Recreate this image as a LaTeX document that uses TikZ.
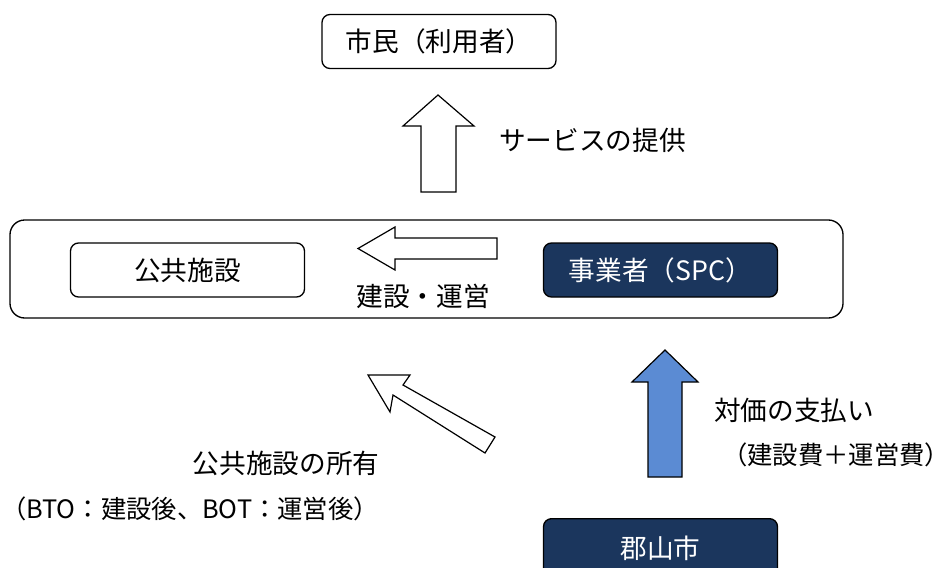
\documentclass[tikz,border=0pt]{standalone}
\usepackage{fontspec}
\setmainfont{Noto Sans CJK JP}
\definecolor{navy}{HTML}{1B365D}
\definecolor{arrowblue}{HTML}{5B8BD3}
\begin{document}
\begin{tikzpicture}[x=0.75pt,y=-0.75pt,
  txt/.style={font=\fontsize{20}{24}\selectfont, inner sep=0pt},
  wbox/.style={draw=black, line width=1pt, rounded corners=6pt, fill=white, minimum width=175.5pt, minimum height=40.5pt, txt},
  nbox/.style={draw=black, line width=1pt, rounded corners=6pt, fill=navy, text=white, minimum width=175.5pt, minimum height=40.5pt, txt},
  harrow/.style={draw=black, line width=0.9pt, fill=white, line join=miter}]
\useasboundingbox (0,0) rectangle (952,567);
\clip (0,0) rectangle (952,567);
% outer frame
\draw[line width=1pt, rounded corners=11pt] (10,220) rectangle (843,318);
% boxes
\node[wbox] (citizen) at (439,41.5) {市民（利用者）};
\node[wbox] (facility) at (187.5,270) {公共施設};
\node[nbox] (spc) at (660.5,270) {事業者（SPC）};
\node[nbox, minimum height=60pt, anchor=north] (city) at (660.5,518) {};
\node[txt, text=white] (citylbl) at (660.5,548) {郡山市};
% up arrow (service)
\draw[harrow] (438,95) -- (474,126) -- (456,126) -- (456,192) -- (421,192) -- (421,126) -- (403,126) -- cycle;
\node[txt, anchor=west] (service) at (499,140) {サービスの提供};
% left arrow (construction)
\draw[harrow] (358,248.5) -- (395,227) -- (395,238) -- (497,238) -- (497,259) -- (395,259) -- (395,270) -- cycle;
\node[txt] (build) at (423,296) {建設・運営};
% diagonal arrow (ownership)
\draw[harrow] (368,375) -- (410,375) -- (403,385) -- (495,437) -- (485,453) -- (393,395) -- (390,412) -- cycle;
\node[txt] (own) at (286,463) {公共施設の所有};
\node[txt, font=\fontsize{19}{23}\selectfont] (ownnote) at (190,509) {（BTO：建設後、BOT：運営後）};
% blue arrow (payment)
\draw[line width=0.9pt, fill=arrowblue, line join=miter] (665,350) -- (698,382) -- (682,382) -- (682,477) -- (648,477) -- (648,382) -- (632,382) -- cycle;
\node[txt, anchor=west] (pay) at (714,410) {対価の支払い};
\node[txt, font=\fontsize{19}{23}\selectfont] (paynote) at (836,455) {（建設費＋運営費）};
\end{tikzpicture}
\end{document}
